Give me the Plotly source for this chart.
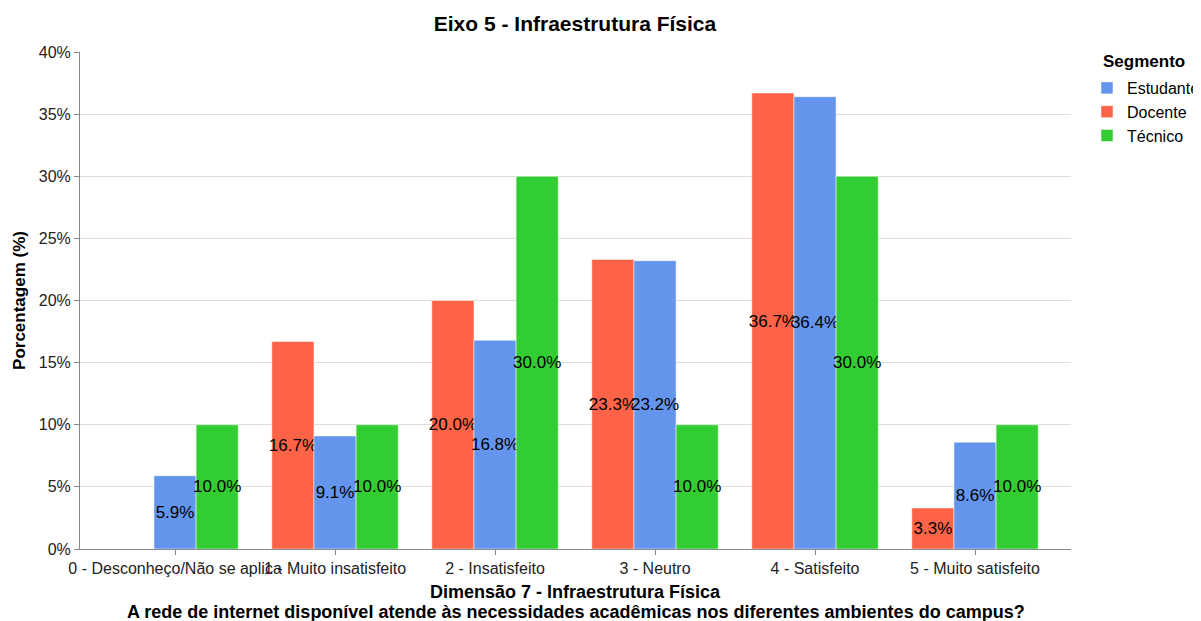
import plotly.graph_objects as go

categories = ["0 - Desconheço/Não se aplica", "1 - Muito insatisfeito", "2 - Insatisfeito",
              "3 - Neutro", "4 - Satisfeito", "5 - Muito satisfeito"]
docente = [0.0, 16.7, 20.0, 23.3, 36.7, 3.3]
estudante = [5.9, 9.1, 16.8, 23.2, 36.4, 8.6]
tecnico = [10.0, 10.0, 30.0, 10.0, 30.0, 10.0]
y_ticks = [0, 5, 10, 15, 20, 25, 30, 35, 40]

series = [
    ("Docente", docente, "#FF6347", 2),
    ("Estudante", estudante, "#6495ED", 1),
    ("Técnico", tecnico, "#32CD32", 3),
]

FONT = "Liberation Sans, Arial, sans-serif"
W, H = 1193, 613
L, R, T, B = 72, 130, 44, 72
PW, PH = W - L - R, H - T - B

fig = go.Figure()
for name, vals, color, rank in series:
    fig.add_trace(go.Bar(
        x=categories, y=vals, name=name, legendrank=rank,
        marker=dict(color=color, line=dict(width=0.5, color="white")),
        text=[f"{v:.1f}%" if v > 0 else "" for v in vals],
        textposition="inside", insidetextanchor="middle", textangle=0,
        textfont=dict(color="black", size=17, family=FONT),
        constraintext="none",
    ))

fig.update_layout(
    width=W, height=H,
    margin=dict(l=L, r=R, t=T, b=B, autoexpand=False),
    paper_bgcolor="white", plot_bgcolor="white",
    barmode="group", bargap=0.21, bargroupgap=0,
    uniformtext=dict(minsize=17, mode="show"),
    font=dict(family=FONT, color="black"),
    title=dict(text="<b>Eixo 5 - Infraestrutura Física</b>", x=567 / W, xanchor="center",
               y=1 - 16 / H, yanchor="middle", font=dict(size=21, color="black")),
    legend=dict(font=dict(size=16), x=(1079 - L) / PW, xanchor="left",
                y=1 - (63 - T) / PH, yanchor="top", tracegroupgap=0,
                traceorder="normal", itemclick=False),
    xaxis=dict(
        range=[-0.594, 5.6], showgrid=False, showline=True, linecolor="#888", linewidth=1,
        ticks="outside", ticklen=5, tickcolor="#888", tickfont=dict(size=16, color="#222"),
        tickangle=0, automargin=False,
    ),
    yaxis=dict(
        range=[0, 40], tickvals=y_ticks, ticktext=[f"{t}%" for t in y_ticks],
        showgrid=True, gridcolor="#ddd", showline=True, linecolor="#888", linewidth=1,
        ticks="outside", ticklen=5, tickcolor="#888", tickfont=dict(size=16, color="#222"),
        zeroline=False, automargin=False,
        title=dict(text="<b>Porcentagem (%)</b>", font=dict(size=17), standoff=8),
    ),
    annotations=[
        dict(text="<b>Segmento</b>", xref="paper", yref="paper",
             x=(1093 - L) / PW, y=1 - (53 - T) / PH, xanchor="left", yanchor="middle",
             showarrow=False, font=dict(size=17, color="black")),
        dict(text="<b>Dimensão 7 - Infraestrutura Física</b>", xref="paper", yref="paper",
             x=0.5, y=0, xanchor="center", yanchor="middle", yshift=-43, showarrow=False,
             font=dict(size=18, color="black")),
        dict(text="<b>A rede de internet disponível atende às necessidades acadêmicas nos diferentes ambientes do campus?</b>",
             xref="paper", yref="paper", x=0.5, y=0, xanchor="center", yanchor="middle", yshift=-63,
             showarrow=False, font=dict(size=18, color="black")),
    ],
)

fig.write_html("out.html")
